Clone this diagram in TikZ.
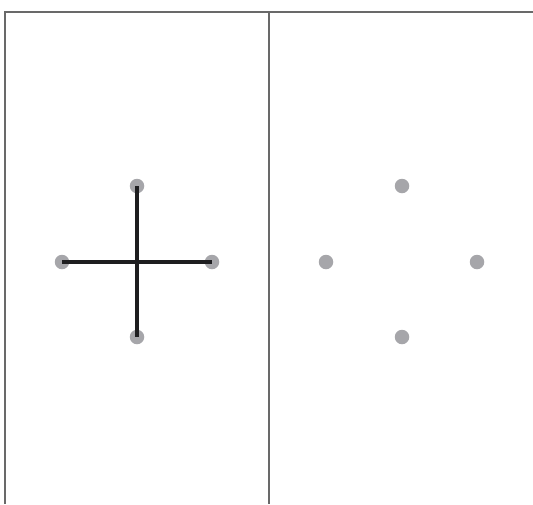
\documentclass[tikz,border=0pt]{standalone}
\usepackage{tikz}
\definecolor{panelGray}{RGB}{105, 105, 105}
\definecolor{dotGray}{RGB}{166, 166, 170}
\definecolor{barBlack}{RGB}{30, 30, 32}

\begin{document}
\begin{tikzpicture}[
  x=1pt, y=-1pt,
  dot/.style={circle, fill=dotGray, inner sep=0pt, minimum size=14.5pt},
  frame/.style={draw=panelGray, line width=2pt},
  bar/.style={draw=barBlack, line width=3.6pt}
]
\useasboundingbox (0,0) rectangle (533,504);
% panels
\draw[frame] (5,504) -- (5,12) -- (533,12);
\draw[frame] (269,12) -- (269,504);
% connected points
\node[dot] (lt) at (137,186) {};
\node[dot] (ll) at (62,262) {};
\node[dot] (lr) at (212,262) {};
\node[dot] (lb) at (137,337) {};
\draw[bar] (lt.center) -- (lb.center);
\draw[bar] (ll.center) -- (lr.center);
% free points
\node[dot] (rt) at (402,186) {};
\node[dot] (rl) at (326,262) {};
\node[dot] (rr) at (477,262) {};
\node[dot] (rb) at (402,337) {};
\end{tikzpicture}
\end{document}
